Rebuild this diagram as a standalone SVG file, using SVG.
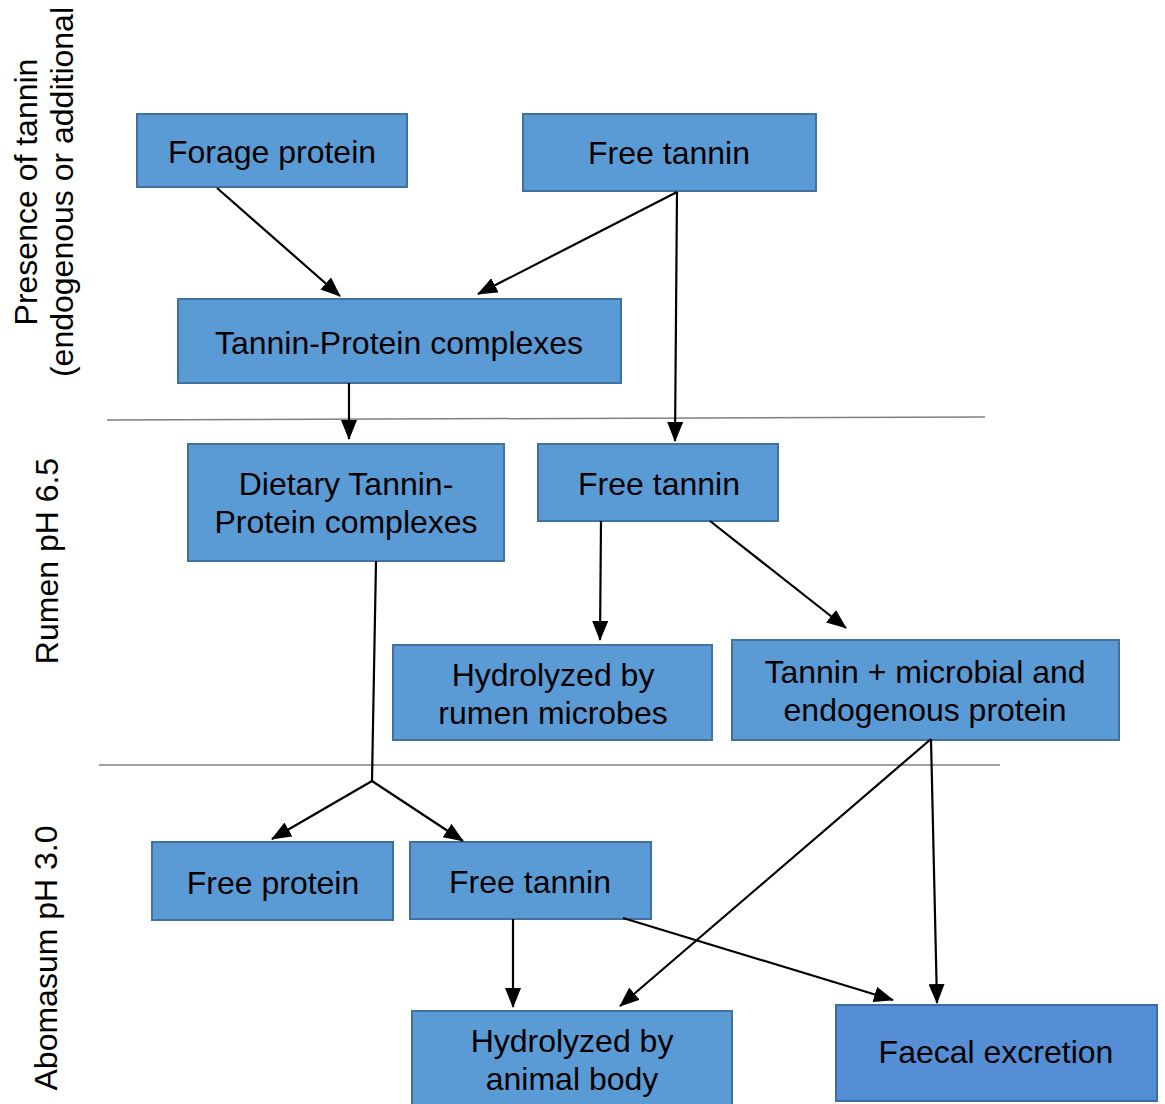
<svg xmlns="http://www.w3.org/2000/svg" width="1165" height="1104" viewBox="0 0 1165 1104">
<defs>
<marker id="ah" markerUnits="userSpaceOnUse" markerWidth="20" markerHeight="16" viewBox="0 0 20 16" refX="19" refY="8" orient="auto">
<path d="M0,0 L20,8 L0,16 Z" fill="#000"/>
</marker>
<style>
.box{fill:#5B9BD5;stroke:#41719C;stroke-width:2}
.box2{fill:#558ED5;stroke:#3E6DA3;stroke-width:2}
.t{font-family:"Liberation Sans",Arial,sans-serif;font-size:32px;fill:#000;text-anchor:middle}
.c{stroke:#000;stroke-width:2.2;fill:none}
.ca{stroke:#000;stroke-width:2.2;fill:none;marker-end:url(#ah)}
.div{stroke:#808080;stroke-width:1.5}
</style>
</defs>
<rect width="1165" height="1104" fill="#fff"/>
<g id="labels">
<text class="t" transform="translate(37,192) rotate(-90)">Presence of tannin</text>
<text class="t" transform="translate(73,192) rotate(-90)">(endogenous or additional</text>
<text class="t" transform="translate(58,561) rotate(-90)">Rumen pH 6.5</text>
<text class="t" transform="translate(57,958) rotate(-90)">Abomasum pH 3.0</text>
</g>
<g id="dividers">
<line class="div" x1="107" y1="420" x2="985" y2="417"/>
<line class="div" x1="99" y1="765" x2="1000" y2="765"/>
</g>
<g id="n1"><rect class="box" x="137" y="114" width="270" height="73"/><text class="t" x="272" y="163">Forage protein</text></g>
<g id="n2"><rect class="box" x="523" y="114" width="293" height="77"/><text class="t" x="669" y="164">Free tannin</text></g>
<g id="n3"><rect class="box" x="178" y="299" width="443" height="84"/><text class="t" x="399" y="354">Tannin-Protein complexes</text></g>
<g id="n4"><rect class="box" x="188" y="444" width="316" height="117"/><text class="t" x="346" y="495">Dietary Tannin-</text><text class="t" x="346" y="533">Protein complexes</text></g>
<g id="n5"><rect class="box" x="538" y="444" width="240" height="77"/><text class="t" x="659" y="495">Free tannin</text></g>
<g id="n6"><rect class="box" x="393" y="645" width="319" height="95"/><text class="t" x="553" y="686">Hydrolyzed by</text><text class="t" x="553" y="724">rumen microbes</text></g>
<g id="n7"><rect class="box" x="732" y="640" width="387" height="100"/><text class="t" x="925" y="683">Tannin + microbial and</text><text class="t" x="925" y="721">endogenous protein</text></g>
<g id="n8"><rect class="box" x="152" y="842" width="241" height="78"/><text class="t" x="273" y="894">Free protein</text></g>
<g id="n9"><rect class="box" x="410" y="842" width="241" height="77"/><text class="t" x="530" y="893">Free tannin</text></g>
<g id="n10"><rect class="box" x="412" y="1011" width="320" height="100"/><text class="t" x="572" y="1052">Hydrolyzed by</text><text class="t" x="572" y="1090">animal body</text></g>
<g id="n11"><rect class="box2" x="836" y="1005" width="321" height="96"/><text class="t" x="996" y="1063">Faecal excretion</text></g>
<g id="connectors">
<line class="ca" x1="217" y1="188" x2="340" y2="296"/>
<line class="ca" x1="677" y1="192" x2="478" y2="294"/>
<line class="ca" x1="677" y1="192" x2="675" y2="441"/>
<line class="ca" x1="349" y1="383" x2="349" y2="439"/>
<line class="ca" x1="601" y1="521" x2="600" y2="640"/>
<line class="ca" x1="710" y1="521" x2="846" y2="628"/>
<polyline class="c" points="376,561 372,781"/>
<line class="ca" x1="372" y1="781" x2="272" y2="839"/>
<line class="ca" x1="372" y1="781" x2="463" y2="841"/>
<line class="ca" x1="513" y1="919" x2="513" y2="1007"/>
<line class="ca" x1="623" y1="918" x2="893" y2="1000"/>
<line class="ca" x1="931" y1="739" x2="620" y2="1006"/>
<line class="ca" x1="931" y1="739" x2="937" y2="1003"/>
</g>
</svg>
